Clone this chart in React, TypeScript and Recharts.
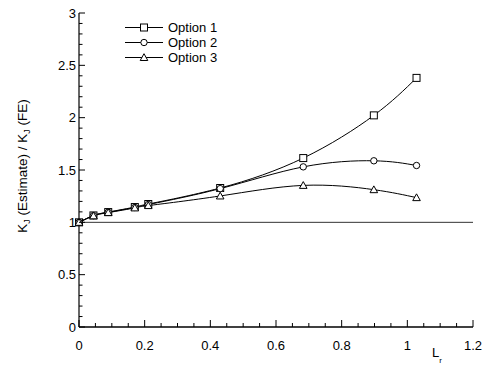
import React from "react";
import { LineChart, Line, XAxis, YAxis, ReferenceLine } from "recharts";

// L_r positions of the computed cases
const lrValues = [0, 0.044, 0.089, 0.17, 0.211, 0.43, 0.683, 0.898, 1.028];

// K_J (Estimate) / K_J (FE)
const option1 = [1, 1.066, 1.098, 1.146, 1.175, 1.328, 1.614, 2.022, 2.38];
const option2 = [1, 1.064, 1.096, 1.142, 1.17, 1.322, 1.53, 1.588, 1.543];
const option3 = [1, 1.062, 1.093, 1.138, 1.16, 1.252, 1.353, 1.312, 1.236];

const xMajorTicks = [0, 0.2, 0.4, 0.6, 0.8, 1, 1.2];
const yMajorTicks = [0, 0.5, 1, 1.5, 2, 2.5, 3];
const xTicks = Array.from({ length: 25 }, (_, i) => +(i * 0.05).toFixed(2));
const yTicks = Array.from({ length: 31 }, (_, i) => +(i * 0.1).toFixed(1));

const seriesNames = ["Option 1", "Option 2", "Option 3"];
const seriesKeys = ["o1", "o2", "o3"];
const seriesShapes = ["square", "circle", "triangle"];

const chartData = lrValues.map((x, i) => ({
  x,
  o1: option1[i],
  o2: option2[i],
  o3: option3[i],
}));

const FONT = "'Liberation Sans', Arial, sans-serif";
const X_MARGIN = 14;
const Y_MARGIN = 3;

const isMajor = (v: number, list: number[]) =>
  list.some((m) => Math.abs(m - v) < 1e-6);

const XTick = (props: any) => {
  const { x, y, payload } = props;
  const axisY = y - X_MARGIN;
  const major = isMajor(payload.value, xMajorTicks);
  return (
    <g>
      <line x1={x} x2={x} y1={axisY} y2={axisY - (major ? 7 : 4)} stroke="#000" />
      {major && (
        <text x={x} y={y} dy="0.71em" textAnchor="middle" fontSize={13} fontFamily={FONT} fill="#000">
          {payload.value}
        </text>
      )}
    </g>
  );
};

const YTick = (props: any) => {
  const { x, y, payload } = props;
  const axisX = x + Y_MARGIN;
  const major = isMajor(payload.value, yMajorTicks);
  return (
    <g>
      <line x1={axisX} x2={axisX + (major ? 6 : 3.5)} y1={y} y2={y} stroke="#000" />
      {major && (
        <text x={x} y={y} dy="0.35em" textAnchor="end" fontSize={13} fontFamily={FONT} fill="#000">
          {payload.value}
        </text>
      )}
    </g>
  );
};

function Marker({ shape, cx, cy }: { shape: string; cx: number; cy: number }) {
  if (cx == null || cy == null) return null;
  if (shape === "square")
    return <rect x={cx - 3.5} y={cy - 3.5} width={7} height={7} fill="#fff" stroke="#000" />;
  if (shape === "circle") return <circle cx={cx} cy={cy} r={3.2} fill="#fff" stroke="#000" />;
  return (
    <polygon
      points={`${cx},${cy - 3.8} ${cx - 3.8},${cy + 3} ${cx + 3.8},${cy + 3}`}
      fill="#fff"
      stroke="#000"
    />
  );
}

const YLabel = () => (
  <text
    transform="translate(27,166) rotate(-90)"
    textAnchor="middle"
    fontSize={13.5}
    fontFamily={FONT}
    fill="#000"
  >
    <tspan>K</tspan>
    <tspan fontSize={9} dy={3}>J</tspan>
    <tspan dy={-3}> (Estimate) / K</tspan>
    <tspan fontSize={9} dy={3}>J</tspan>
    <tspan dy={-3}> (FE)</tspan>
  </text>
);

const XLabel = () => (
  <text x={432} y={357} fontSize={13} fontFamily={FONT} fill="#000">
    <tspan>L</tspan>
    <tspan fontSize={8} dy={6}>r</tspan>
  </text>
);

function LegendBox() {
  return (
    <div style={{ position: "absolute", left: 125, top: 20, fontFamily: FONT, fontSize: 13 }}>
      {seriesNames.map((name, i) => (
        <div key={name} style={{ display: "flex", alignItems: "center", height: 15 }}>
          <svg width={40} height={15}>
            <line x1={0} x2={38} y1={7.5} y2={7.5} stroke="#000" />
            <Marker shape={seriesShapes[i]} cx={19} cy={7.5} />
          </svg>
          <span style={{ marginLeft: 3 }}>{name}</span>
        </div>
      ))}
    </div>
  );
}

export default function App() {
  return (
    <div style={{ position: "absolute", left: 0, top: 0, width: 485, height: 367, background: "#fff" }}>
      <LineChart
        width={485}
        height={367}
        data={chartData}
        margin={{ top: 13, right: 12, bottom: 0, left: 19 }}
      >
        <XAxis
          dataKey="x"
          type="number"
          domain={[0, 1.2]}
          ticks={xTicks}
          interval={0}
          height={40}
          tickSize={0}
          tickMargin={X_MARGIN}
          tickLine={false}
          tick={<XTick />}
          axisLine={{ stroke: "#000", strokeWidth: 1.5 }}
          label={<XLabel />}
        />
        <YAxis
          type="number"
          domain={[0, 3]}
          ticks={yTicks}
          interval={0}
          width={60}
          tickSize={0}
          tickMargin={Y_MARGIN}
          tickLine={false}
          tick={<YTick />}
          axisLine={{ stroke: "#000", strokeWidth: 1.2 }}
          label={<YLabel />}
        />
        <ReferenceLine y={1} stroke="#333" strokeWidth={1} />
        {seriesKeys.map((key, i) => (
          <Line
            key={key}
            dataKey={key}
            name={seriesNames[i]}
            type="natural"
            stroke="#000"
            strokeWidth={1}
            isAnimationActive={false}
            dot={(p: any) => <Marker key={`${key}-${p.index}`} shape={seriesShapes[i]} cx={p.cx} cy={p.cy} />}
            activeDot={false}
          />
        ))}
      </LineChart>
      <LegendBox />
    </div>
  );
}
